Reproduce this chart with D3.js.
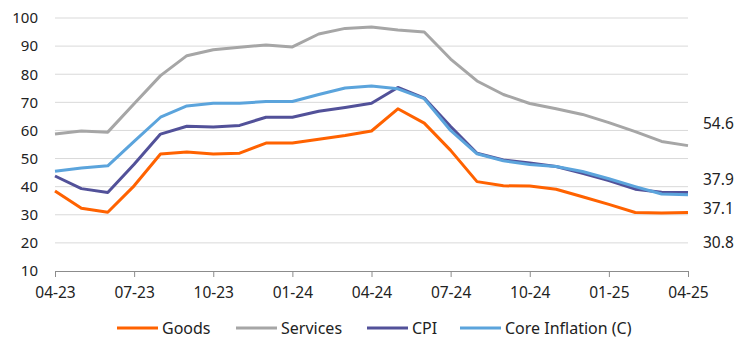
<!DOCTYPE html>
<html>
<head>
<meta charset="utf-8">
<script src="https://cdn.jsdelivr.net/npm/d3@7"></script>
<style>
  body { margin: 0; background: #fff; }
  svg { display: block; font-family: "Noto Sans", sans-serif; }
</style>
</head>
<body>
<svg width="745" height="353"></svg>
<script>
var months = ["04-23","05-23","06-23","07-23","08-23","09-23","10-23","11-23","12-23",
  "01-24","02-24","03-24","04-24","05-24","06-24","07-24","08-24","09-24","10-24",
  "11-24","12-24","01-25","02-25","03-25","04-25"];

var goods = [38.5, 32.3, 30.9, 40.3, 51.6, 52.3, 51.6, 51.9, 55.5, 55.5, 56.9, 58.2, 59.8,
  67.7, 62.6, 52.9, 41.8, 40.3, 40.2, 39.1, 36.4, 33.7, 30.8, 30.6, 30.8];
var services = [58.7, 59.8, 59.4, 69.5, 79.5, 86.6, 88.7, 89.6, 90.4, 89.7, 94.3, 96.3, 96.8,
  95.7, 95.0, 85.4, 77.6, 72.8, 69.6, 67.7, 65.7, 62.8, 59.6, 56.1, 54.6];
var cpi = [43.8, 39.3, 37.9, 48.0, 58.7, 61.5, 61.2, 61.8, 64.7, 64.7, 66.8, 68.2, 69.7,
  75.3, 71.5, 61.4, 51.9, 49.5, 48.4, 47.2, 44.8, 42.2, 39.1, 38.0, 37.9];
var core = [45.5, 46.6, 47.4, 56.1, 64.7, 68.7, 69.7, 69.7, 70.3, 70.3, 72.8, 75.1, 75.8,
  74.8, 71.3, 60.0, 51.7, 49.2, 47.9, 47.2, 45.4, 42.8, 40.0, 37.4, 37.1];

var yTicks = [10, 20, 30, 40, 50, 60, 70, 80, 90, 100];
var xTickLabels = ["04-23","07-23","10-23","01-24","04-24","07-24","10-24","01-25","04-25"];

var seriesNames = ["Goods", "Services", "CPI", "Core Inflation (C)"];
var seriesColors = ["#ff6200", "#a6a6a6", "#525199", "#5ba4dc"];
var seriesData = [goods, services, cpi, core];

// end-of-line labels (text), drawn top to bottom
var endLabels = ["54.6", "37.9", "37.1", "30.8"];
var endLabelValues = [54.6, 37.9, 37.1, 30.8];

var svg = d3.select("svg"),
    margin = {top: 18, right: 57, bottom: 82, left: 55},
    width = +svg.attr("width"),
    height = +svg.attr("height");

var x = d3.scalePoint()
    .domain(months)
    .range([margin.left, width - margin.right]);

var y = d3.scaleLinear()
    .domain([10, 100])
    .range([height - margin.bottom, margin.top]);

// gridlines
svg.append("g")
  .selectAll("line")
  .data(yTicks.filter(function(d) { return d > 10; }))
  .enter().append("line")
    .attr("x1", margin.left)
    .attr("x2", width - margin.right)
    .attr("y1", function(d) { return y(d); })
    .attr("y2", function(d) { return y(d); })
    .attr("stroke", "#d9d9d9")
    .attr("stroke-width", 1);

// y axis labels
var yAxis = svg.append("g")
    .attr("transform", "translate(" + (margin.left - 17) + ",0)")
    .call(d3.axisLeft(y).tickValues(yTicks).tickSize(0).tickPadding(0));
yAxis.select(".domain").remove();
yAxis.selectAll("text")
    .attr("font-size", 15)
    .attr("font-family", "Noto Sans, sans-serif")
    .attr("fill", "#222");

// x axis
var xAxis = svg.append("g")
    .attr("transform", "translate(0," + y(10) + ")")
    .call(d3.axisBottom(x).tickValues(xTickLabels).tickSize(6).tickPadding(10));
xAxis.select(".domain").attr("stroke", "#8c8c8c");
xAxis.selectAll(".tick line").attr("stroke", "#8c8c8c");
xAxis.selectAll("text")
    .attr("font-size", 15.5)
    .attr("font-family", "Noto Sans, sans-serif")
    .attr("fill", "#222");

var line = d3.line()
    .x(function(d, i) { return x(months[i]); })
    .y(function(d) { return y(d); });

// draw order so that light blue sits on top of CPI
[1, 0, 2, 3].forEach(function(k) {
  svg.append("path")
      .datum(seriesData[k])
      .attr("fill", "none")
      .attr("stroke", seriesColors[k])
      .attr("stroke-width", 3)
      .attr("stroke-linejoin", "round")
      .attr("d", line);
});

// end labels, nudged apart like the original
var labelDy = [-22, -13, 14, 30];
svg.append("g")
  .selectAll("text")
  .data(endLabels)
  .enter().append("text")
    .attr("x", width - margin.right + 15)
    .attr("y", function(d, i) { return y(endLabelValues[i]) + labelDy[i]; })
    .attr("dy", "0.35em")
    .attr("font-size", 15.5)
    .attr("fill", "#222")
    .text(function(d) { return d; });

// legend
var legendX = [117, 236, 367, 460];
var legend = svg.append("g")
    .attr("transform", "translate(0,328)");
var items = legend.selectAll("g")
  .data(seriesNames)
  .enter().append("g")
    .attr("transform", function(d, i) { return "translate(" + legendX[i] + ",0)"; });
items.append("line")
    .attr("x1", 0).attr("x2", 41)
    .attr("stroke", function(d, i) { return seriesColors[i]; })
    .attr("stroke-width", 3);
items.append("text")
    .attr("x", 45)
    .attr("dy", "0.35em")
    .attr("font-size", 16)
    .attr("fill", "#222")
    .text(function(d) { return d; });
</script>
</body>
</html>
